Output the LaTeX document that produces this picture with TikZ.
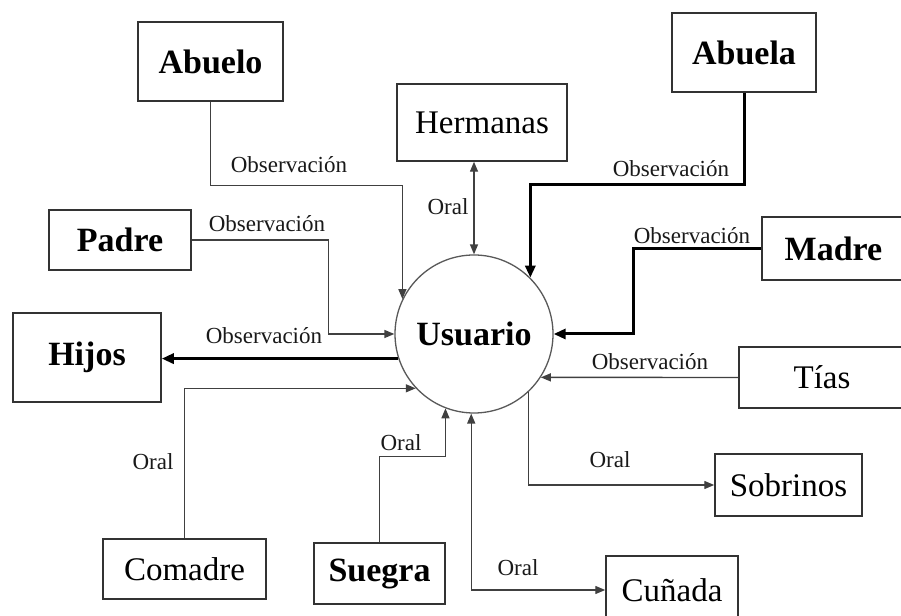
\documentclass[tikz,border=0pt]{standalone}
\usepackage{fontspec}
\setmainfont{Liberation Serif}
\usetikzlibrary{arrows.meta,positioning}

\tikzset{
  caja/.style={draw=black!80, line width=1.5pt, inner sep=0pt, font=\fontsize{33}{40}\selectfont},
  cajafuerte/.style={caja, font=\bfseries\fontsize{34}{40}\selectfont},
  circulo/.style={circle, draw=black!65, line width=1.3pt, minimum size=158pt, inner sep=0pt, font=\bfseries\fontsize{34}{40}\selectfont},
  flujo/.style={draw=black!75, line width=1.4pt, -{Triangle[length=10pt,width=8pt]}},
  flujodoble/.style={flujo, {Triangle[length=10pt,width=8pt]}-{Triangle[length=10pt,width=8pt]}},
  flujofuerte/.style={draw=black, line width=3pt, -{Triangle[length=12pt,width=10pt]}},
  etiqueta/.style={font=\fontsize{23}{28}\selectfont, inner sep=0pt, text=black!90}
}

\begin{document}
\begin{tikzpicture}[x=1pt, y=1pt]
    \useasboundingbox (0,0) rectangle (901,615);

    % centro
    \node[circulo] (usuario) at (474,281) {Usuario};

    % cajas
    \node[cajafuerte, minimum width=145pt, minimum height=79pt] (abuelo) at (210.5,553.5) {Abuelo};
    \node[caja, minimum width=170pt, minimum height=77pt] (hermanas) at (482,492.5) {Hermanas};
    \node[cajafuerte, minimum width=144pt, minimum height=79pt] (abuela) at (744,562.5) {Abuela};
    \node[cajafuerte, minimum width=143pt, minimum height=63pt] (madre) at (833.5,366.5) {Madre};
    \node[cajafuerte, minimum width=142pt, minimum height=60pt] (padre) at (120,375) {Padre};
    \node[cajafuerte, minimum width=148pt, minimum height=89pt] (hijos) at (87,257.5) {Hijos};
    \node[caja, minimum width=166pt, minimum height=61pt] (tias) at (822,237.5) {Tías};
    \node[caja, minimum width=147pt, minimum height=62pt] (sobrinos) at (788.5,130) {Sobrinos};
    \node[caja, minimum width=163pt, minimum height=60pt] (comadre) at (184.5,46) {Comadre};
    \node[cajafuerte, minimum width=131pt, minimum height=61pt] (suegra) at (379.5,41.5) {Suegra};
    \node[caja, minimum width=132pt, minimum height=68pt] (cunada) at (672,25) {Cuñada};

    % conectores
    \draw[flujo] (abuelo.south) -- ++(0,-84) -| (usuario.154);
    \draw[flujo] (padre.east) -- ++(137,0) |- (usuario.west);
    \draw[flujofuerte] (usuario.198) -- (usuario.198 -| hijos.east);
    \draw[flujo] (comadre.north) |- (usuario.223);
    \draw[flujo] (suegra.north) -- ++(0,86) -| (usuario.249);
    \draw[flujodoble] (usuario.268) |- (cunada.west);
    \draw[flujo] (usuario.313) |- (sobrinos.west);
    \draw[flujo] (tias.west) -- (usuario.327);
    \draw[flujofuerte] (madre.west) -- ++(-128,0) |- (usuario.east);
    \draw[flujofuerte] (abuela.south) -- ++(0,-92) -| (usuario.45);
    \draw[flujodoble] (usuario.north) -- (usuario.north |- hermanas.south);

    % etiquetas
    \node[etiqueta] (eAbuelo) at (289,450) {Observación};
    \node[etiqueta] (ePadre) at (267,391) {Observación};
    \node[etiqueta] (eHijos) at (264,279) {Observación};
    \node[etiqueta] (eComadre) at (153,153) {Oral};
    \node[etiqueta] (eSuegra) at (401,172) {Oral};
    \node[etiqueta] (eCunada) at (518,47) {Oral};
    \node[etiqueta] (eSobrinos) at (610,155) {Oral};
    \node[etiqueta] (eTias) at (650,253) {Observación};
    \node[etiqueta] (eMadre) at (692,379) {Observación};
    \node[etiqueta] (eAbuela) at (671,446) {Observación};
    \node[etiqueta] (eHermanas) at (448,408) {Oral};
\end{tikzpicture}
\end{document}
